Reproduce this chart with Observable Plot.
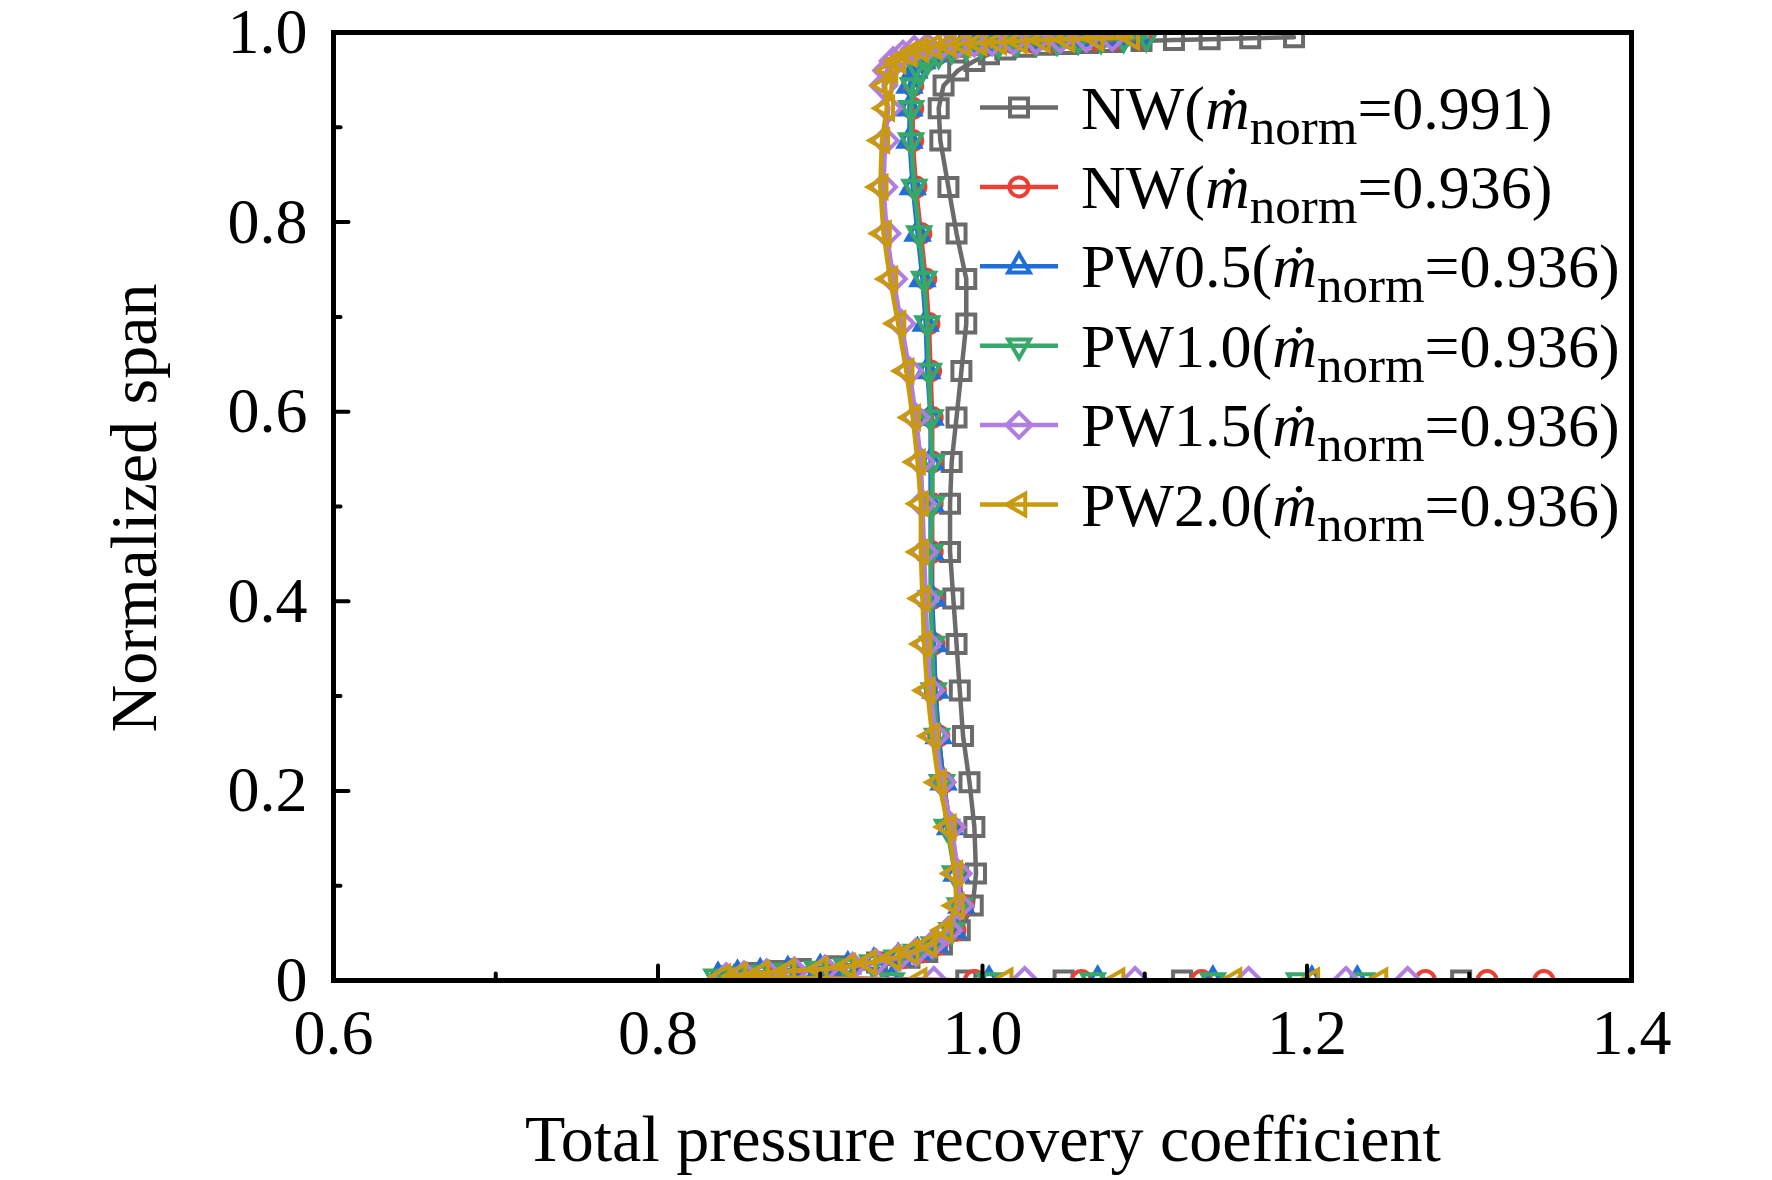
<!DOCTYPE html>
<html><head><meta charset="utf-8">
<script src="https://cdn.jsdelivr.net/npm/d3@7"></script>
<script src="https://cdn.jsdelivr.net/npm/@observablehq/plot@0.6"></script>
<style>
body{margin:0;background:#fff}
#chart{width:1772px;height:1180px}
</style>
</head><body><div id="chart"></div>
<script>
// ---- data ----
const span = [0.004,0.006,0.008,0.010,0.012,0.015,0.019,0.024,0.030,0.038,0.053,0.079,
  0.113,0.162,0.209,0.258,0.306,0.355,0.403,0.452,0.503,0.547,0.594,0.643,0.693,0.740,0.788,0.837,0.886,
  0.920,0.944,0.960,0.970,0.977,0.982,0.985,0.987,0.988,0.989,0.990,0.991,0.992,0.993,0.994,0.995];

const nw991 = [0.845,0.853,0.862,0.872,0.888,0.910,0.935,0.955,0.966,0.975,0.986,0.994,
  0.996,0.995,0.992,0.988,0.986,0.984,0.982,0.980,0.980,0.981,0.984,0.987,0.990,0.990,0.984,0.979,0.974,
  0.973,0.976,0.985,0.995,1.004,1.014,1.027,1.040,1.052,1.065,1.080,1.098,1.118,1.140,1.165,1.192];
const nw936 = [0.839,0.851,0.865,0.882,0.902,0.919,0.935,0.950,0.962,0.972,0.983,0.988,
  0.985,0.980,0.976,0.973,0.971,0.970,0.969,0.969,0.969,0.969,0.969,0.968,0.967,0.965,0.962,0.959,0.957,
  0.957,0.957,0.960,0.965,0.972,0.980,0.989,0.998,1.008,1.019,1.031,1.044,1.057,1.070,1.084,1.098];
const pw05 = [0.837,0.849,0.863,0.880,0.900,0.917,0.933,0.948,0.960,0.971,0.982,0.987,
  0.984,0.980,0.976,0.973,0.971,0.970,0.969,0.968,0.968,0.968,0.968,0.966,0.965,0.963,0.960,0.957,0.955,
  0.955,0.955,0.958,0.963,0.970,0.978,0.987,0.996,1.006,1.017,1.029,1.042,1.055,1.068,1.082,1.096];
const pw10 = [0.836,0.847,0.861,0.879,0.898,0.916,0.932,0.947,0.959,0.970,0.981,0.986,
  0.983,0.978,0.975,0.972,0.970,0.969,0.968,0.968,0.969,0.969,0.968,0.967,0.966,0.964,0.961,0.958,0.956,
  0.956,0.957,0.961,0.966,0.973,0.981,0.990,0.999,1.010,1.021,1.033,1.046,1.059,1.073,1.087,1.101];
const pw15 = [0.842,0.853,0.867,0.884,0.903,0.920,0.934,0.948,0.959,0.969,0.979,0.986,
  0.985,0.981,0.975,0.971,0.968,0.966,0.965,0.964,0.963,0.962,0.959,0.955,0.950,0.945,0.941,0.939,0.940,
  0.942,0.939,0.941,0.945,0.951,0.958,0.966,0.975,0.985,0.995,1.006,1.019,1.033,1.048,1.064,1.080];
const pw20 = [0.840,0.850,0.864,0.880,0.900,0.917,0.930,0.945,0.956,0.967,0.977,0.984,
  0.983,0.979,0.973,0.969,0.966,0.964,0.963,0.962,0.962,0.960,0.957,0.953,0.948,0.943,0.939,0.937,0.938,
  0.941,0.940,0.943,0.948,0.955,0.962,0.970,0.979,0.988,0.998,1.010,1.023,1.037,1.052,1.070,1.092];

// points lying on the hub wall (span = 0)
const hub_nw991 = [0.990,1.050,1.123,1.295];
const hub_nw936 = [0.995,1.061,1.135,1.273,1.311,1.346];
const hub_pw05  = [0.944,1.004,1.071,1.142,1.203,1.231];
const hub_pw10  = [0.944,1.004,1.068,1.142,1.195,1.234];
const hub_pw15  = [0.970,1.026,1.094,1.164,1.224,1.262];
const hub_pw20  = [0.961,1.014,1.083,1.155,1.203,1.245];

const seriesNames = ["NW","NW","PW0.5","PW1.0","PW1.5","PW2.0"];
const massFlow = ["0.991","0.936","0.936","0.936","0.936","0.936"];
const colors = ["#6b6b6b","#ec4036","#1f6fd8","#36a86a","#b07ee0","#c99a0c"];

const xTicks = [0.6,0.8,1.0,1.2,1.4];
const xMinor = [0.7,0.9,1.1,1.3];
const yTicks = [0,0.2,0.4,0.6,0.8,1.0];
const yMinor = [0.1,0.3,0.5,0.7,0.9];

// ---- symbols ----
const rad = s => Math.sqrt(s/Math.PI);
const symSquare = {draw(c,s){const h=rad(s)*0.9;c.moveTo(-h,-h);c.lineTo(h,-h);c.lineTo(h,h);c.lineTo(-h,h);c.closePath();}};
const symCircle = {draw(c,s){const r=rad(s)*0.95;c.moveTo(r,0);c.arc(0,0,r,0,2*Math.PI);c.closePath();}};
function symTri(angle){return {draw(c,s){const r=rad(s)*1.25;for(let k=0;k<3;k++){const a=(angle+k*120)*Math.PI/180;const px=r*Math.sin(a),py=-r*Math.cos(a);k?c.lineTo(px,py):c.moveTo(px,py);}c.closePath();}};}
const symDiamond = {draw(c,s){const r=rad(s)*1.25;c.moveTo(0,-r);c.lineTo(r,0);c.lineTo(0,r);c.lineTo(-r,0);c.closePath();}};
const symbols = [symSquare, symCircle, symTri(0), symTri(180), symDiamond, symTri(270)];

const curves = [nw991,nw936,pw05,pw10,pw15,pw20];
const hubs = [hub_nw991,hub_nw936,hub_pw05,hub_pw10,hub_pw15,hub_pw20];

const series = curves.map((xs,i) => {
  const rows = [];
  hubs[i].slice().sort((a,b)=>b-a).forEach(v => rows.push({x:v, y:0}));
  xs.forEach((v,j) => rows.push({x:v, y:span[j]}));
  return {rows, color: colors[i], symbol: symbols[i]};
});

const tickShape = {draw(c,l){c.moveTo(0,0);c.lineTo(0,-l);}};
const FONT = "'Liberation Serif','Times New Roman',serif";
const R = 10;

const marks = [];
series.forEach(s => {
  marks.push(Plot.line(s.rows, {x:"x", y:"y", stroke:s.color, strokeWidth:4.5, clip:true}));
  marks.push(Plot.dot(s.rows, {x:"x", y:"y", symbol:s.symbol, r:R, stroke:s.color, strokeWidth:4, fill:"none", clip:true}));
});
marks.push(
  Plot.vector(xTicks, {x:d=>d, frameAnchor:"bottom", length:15, anchor:"start", shape:tickShape, stroke:"black", strokeWidth:4}),
  Plot.vector(xMinor, {x:d=>d, frameAnchor:"bottom", length:7, anchor:"start", shape:tickShape, stroke:"black", strokeWidth:4}),
  Plot.vector(yTicks, {y:d=>d, frameAnchor:"left", length:15, rotate:90, anchor:"start", shape:tickShape, stroke:"black", strokeWidth:4}),
  Plot.vector(yMinor, {y:d=>d, frameAnchor:"left", length:7, rotate:90, anchor:"start", shape:tickShape, stroke:"black", strokeWidth:4}),
  Plot.frame({stroke:"black", strokeWidth:5}),
  Plot.axisX(xTicks, {tickSize:0, tickPadding:28, fontSize:64, fontFamily:FONT, fill:"black", tickFormat:d=>d.toFixed(1), label:null}),
  Plot.axisY(yTicks, {tickSize:0, tickPadding:26, fontSize:64, fontFamily:FONT, fill:"black", tickFormat:d=>d===0?"0":d.toFixed(1), label:null})
);

const plot = Plot.plot({
  width:1772, height:1180,
  marginLeft:333, marginRight:141, marginTop:32, marginBottom:200,
  x:{domain:[0.6,1.4]},
  y:{domain:[0,1]},
  style:{fontFamily:FONT, background:"white", color:"black"},
  marks
});
document.getElementById("chart").appendChild(plot);

// ---- axis titles & legend ----
const svg = d3.select(plot);
svg.append("text").attr("x",983).attr("y",1161).attr("text-anchor","middle")
  .attr("font-family",FONT).attr("font-size",66).attr("fill","black")
  .text("Total pressure recovery coefficient");
svg.append("text").attr("transform","translate(156,508) rotate(-90)").attr("text-anchor","middle")
  .attr("font-family",FONT).attr("font-size",66).attr("fill","black")
  .text("Normalized span");

const lg = svg.append("g").attr("text-anchor","start");
seriesNames.forEach((name,i) => {
  const cy = 107.5 + i*79.4;
  lg.append("line").attr("x1",980).attr("x2",1058).attr("y1",cy).attr("y2",cy)
    .attr("stroke",colors[i]).attr("stroke-width",4.5);
  lg.append("path").attr("d", d3.symbol(symbols[i], Math.PI*R*R)())
    .attr("transform",`translate(1019,${cy})`).attr("fill","none")
    .attr("stroke",colors[i]).attr("stroke-width",4);
  const t = lg.append("text").attr("x",1081).attr("y",cy+21).attr("text-anchor","start")
    .attr("font-family",FONT).attr("font-size",62).attr("fill","black");
  t.append("tspan").text(name+"(");
  t.append("tspan").attr("font-style","italic").text("ṁ");
  t.append("tspan").attr("font-size",51).attr("dy",15).text("norm");
  t.append("tspan").attr("dy",-15).text("="+massFlow[i]+")");
});
</script>
</body></html>
